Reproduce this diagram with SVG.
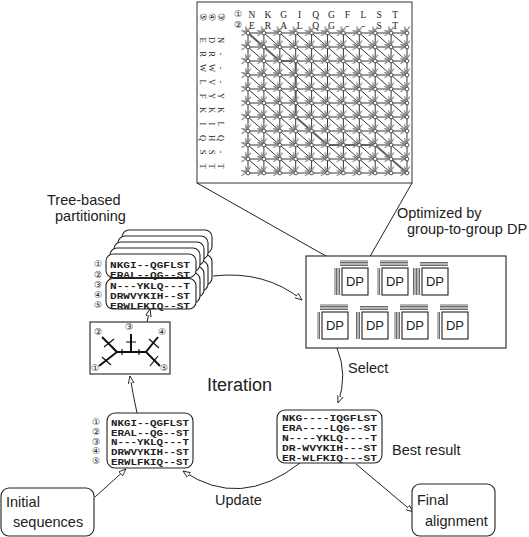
<svg xmlns="http://www.w3.org/2000/svg" width="529" height="537" viewBox="0 0 529 537">
<style>
.ln{stroke:#222;fill:none;stroke-width:1}
.bx{stroke:#222;fill:#fff;stroke-width:1.1}
.lbl{font-family:"Liberation Sans",Arial,sans-serif;font-size:14.5px;fill:#222}
.seq{font-family:"Liberation Mono","DejaVu Sans Mono",monospace;font-weight:bold;font-size:9.5px;fill:#222}
.seqs{font-family:"Liberation Mono","DejaVu Sans Mono",monospace;font-weight:bold;font-size:9px;fill:#222}
.cn{font-family:"DejaVu Sans","Noto Sans CJK JP",sans-serif;font-size:9px;fill:#222;text-anchor:middle;dominant-baseline:central}
.gl{font-family:"Liberation Serif",serif;font-size:9.5px;fill:#222;text-anchor:middle}
.gr{font-family:"Liberation Serif",serif;font-size:8.5px;fill:#222;text-anchor:middle}
.stk{stroke:#444;fill:none;stroke-width:0.8}
.dp{font-family:"Liberation Sans",Arial,sans-serif;font-size:13px;fill:#222;text-anchor:middle}
.gd{stroke:#222;fill:none;stroke-width:0.9}
.br{stroke:#111;fill:none;stroke-width:2}
.tk{stroke:#111;fill:none;stroke-width:1.2}
</style>
<defs>
<marker id="ah" viewBox="0 0 10 10" refX="9" refY="5" markerWidth="8" markerHeight="8" orient="auto" markerUnits="userSpaceOnUse">
<path d="M0,1.5 L9,5 L0,8.5 Z" fill="#fff" stroke="#222" stroke-width="1.1"/>
</marker>
<pattern id="nodes" patternUnits="userSpaceOnUse" x="240.05" y="26" width="15.9" height="14">
<g transform="translate(7.95,7)">
<path d="M-6.5,-2.8 L-2.3,0 L-6.5,2.8 M-2.8,-6.5 L0,-2.3 L2.8,-6.5 M-6.6,-2.4 L-1.7,-1.7 L-2.4,-6.6" stroke="#888" stroke-width="1.2" fill="none"/>
<circle r="1.9" fill="#fff" stroke="#222" stroke-width="0.8"/>
</g>
</pattern>
<g id="card">
<rect x="0" y="0" width="90" height="23.5" rx="7"/>
<rect x="0" y="24.5" width="90" height="30.5" rx="7"/>
</g>
</defs>
<rect width="529" height="537" fill="#fff"/>

<!-- DP grid detail -->
<g id="grid">
<rect x="197" y="2" width="215" height="181" fill="#fff" stroke="#333" stroke-width="1"/>
<text class="cn" x="238" y="14">①</text>
<text class="cn" x="238" y="25">②</text>
<text class="gl" x="252 267.9 283.8 299.7 315.6 331.5 347.4 363.3 379.2 395.1" y="17.5">NKGIQGFLST</text>
<text class="gl" x="252 267.9 283.8 299.7 315.6 331.5 347.4 363.3 379.2 395.1" y="28.5">ERALQG--ST</text>
<g transform="rotate(90)">
<text class="cn" x="17" y="-221">③</text>
<text class="cn" x="17" y="-212">④</text>
<text class="cn" x="17" y="-203">⑤</text>
<text class="gr" x="40 54 68 82 96 110 124 138 152 166" y="-218">N---YKLQ-T</text>
<text class="gr" x="40 54 68 82 96 110 124 138 152 166" y="-209">DRWVYKIHST</text>
<text class="gr" x="40 54 68 82 96 110 124 138 152 166" y="-200">ERWLFKIQST</text>
</g>
<path class="gd" d="M248,33H407M248,47H407M248,61H407M248,75H407M248,89H407M248,103H407M248,117H407M248,131H407M248,145H407M248,159H407M248,173H407
M248,33V173M263.9,33V173M279.8,33V173M295.7,33V173M311.6,33V173M327.5,33V173M343.4,33V173M359.3,33V173M375.2,33V173M391.1,33V173M407,33V173
M248,33L407,173M263.9,33L407,159M279.8,33L407,145M295.7,33L407,131M311.6,33L407,117M327.5,33L407,103M343.4,33L407,89M359.3,33L407,75M375.2,33L407,61M391.1,33L407,47
M248,47L391.1,173M248,61L375.2,173M248,75L359.3,173M248,89L343.4,173M248,103L327.5,173M248,117L311.6,173M248,131L295.7,173M248,145L279.8,173M248,159L263.9,173"/>
<path d="M248,33 L263.9,47 L279.8,61 L295.7,61 L295.7,117 L311.6,131 L327.5,145 L375.2,145 L391.1,159 L407,173" stroke="#555" stroke-width="2.2" fill="none" opacity="0.8"/>
<rect x="240.05" y="26" width="174.9" height="154" fill="url(#nodes)"/>
</g>

<!-- connectors -->
<g id="connectors">
<path class="ln" d="M197,183 L333,260"/>
<path class="ln" d="M412,183 L368,260"/>
<path class="ln" d="M213,276 Q265,270 302,300" marker-end="url(#ah)"/>
<path class="ln" d="M337,348 Q348,375 338,403" marker-end="url(#ah)"/>
<path class="ln" d="M356,464 L413,512" marker-end="url(#ah)"/>
<path class="ln" d="M300,463 Q240,510 183,471" marker-end="url(#ah)"/>
<path class="ln" d="M95,497 L126,469" marker-end="url(#ah)"/>
<path class="ln" d="M137,413 Q133,395 130,376" marker-end="url(#ah)"/>
<path class="ln" d="M147,322 L150,309" marker-end="url(#ah)"/>
</g>

<!-- partition stack -->
<g id="partition">
<g class="bx">
<use href="#card" x="122" y="230"/>
<use href="#card" x="118" y="236"/>
<use href="#card" x="114" y="242"/>
<use href="#card" x="110" y="248"/>
<use href="#card" x="106" y="254"/>
</g>
<text class="cn" x="98" y="264">①</text>
<text class="cn" x="98" y="274.5">②</text>
<text class="cn" x="98" y="285">③</text>
<text class="cn" x="98" y="295">④</text>
<text class="cn" x="98" y="305">⑤</text>
<text class="seq" x="110" y="267.5" textLength="80" lengthAdjust="spacingAndGlyphs">NKGI--QGFLST</text>
<text class="seq" x="110" y="278" textLength="80" lengthAdjust="spacingAndGlyphs">ERAL--QG--ST</text>
<text class="seq" x="110" y="288.5" textLength="80" lengthAdjust="spacingAndGlyphs">N---YKLQ---T</text>
<text class="seq" x="110" y="298.5" textLength="80" lengthAdjust="spacingAndGlyphs">DRWVYKIH--ST</text>
<text class="seq" x="110" y="308.5" textLength="80" lengthAdjust="spacingAndGlyphs">ERWLFKIQ--ST</text>
</g>
<text class="lbl" x="47" y="205">Tree-based</text>
<text class="lbl" x="55" y="221">partitioning</text>

<!-- tree -->
<g id="tree">
<rect class="bx" x="90" y="322" width="80" height="52"/>
<path class="br" d="M102,337 L117,352 L99,366 M117,352 H146 M158,337 L146,352 L160,366 M131,352 V334"/>
<path class="tk" d="M104,347 L114,339 M102,357 L111,365 M149,339 L159,348 M150,366 L158,356 M126,342 H136 M122,349 V355 M139,349 V355"/>
<text class="cn" x="98" y="332">②</text>
<text class="cn" x="129" y="327">③</text>
<text class="cn" x="162" y="332">④</text>
<text class="cn" x="95" y="368">①</text>
<text class="cn" x="164" y="368">⑤</text>
</g>

<!-- DP box -->
<g id="dpbox">
<rect class="bx" x="306" y="256" width="200" height="92"/>
<path class="stk" d="M340,265.5H368M340,264H368M340,262.5H368M340,261H368M339.5,268V295M338,268V295M336.5,268V295M335,268V295
M380,265.5H408M380,264H408M380,262.5H408M380,261H408M379.5,268V295M378,268V295
M420,265.5H448M420,264H448M420,262.5H448M419.5,268V295M418,268V295M416.5,268V295M415,268V295M413.5,268V295
M320,309.5H348M320,308H348M320,306.5H348M320,305H348M319.5,312V339M318,312V339
M360,309.5H388M360,308H388M360,306.5H388M359.5,312V339M358,312V339M356.5,312V339
M400,309.5H428M400,308H428M400,306.5H428M400,305H428M399.5,312V339M398,312V339M396.5,312V339M395,312V339
M440,309.5H468M440,308H468M440,306.5H468M440,305H468M439.5,312V339M438,312V339"/>
<g class="bx">
<rect x="342" y="268" width="26" height="27"/>
<rect x="382" y="268" width="26" height="27"/>
<rect x="422" y="268" width="26" height="27"/>
<rect x="322" y="312" width="26" height="27"/>
<rect x="362" y="312" width="26" height="27"/>
<rect x="402" y="312" width="26" height="27"/>
<rect x="442" y="312" width="26" height="27"/>
</g>
<text class="dp" x="355" y="286">DP</text>
<text class="dp" x="395" y="286">DP</text>
<text class="dp" x="435" y="286">DP</text>
<text class="dp" x="335" y="330">DP</text>
<text class="dp" x="375" y="330">DP</text>
<text class="dp" x="415" y="330">DP</text>
<text class="dp" x="455" y="330">DP</text>
</g>
<text class="lbl" x="397" y="218">Optimized  by</text>
<text class="lbl" x="407" y="234">group-to-group DP</text>
<text class="lbl" x="348" y="373">Select</text>
<text class="lbl" x="207" y="391" style="font-size:18px">Iteration</text>

<!-- best result -->
<g id="best">
<rect class="bx" x="277" y="410" width="105" height="53" rx="8"/>
<text class="seqs" x="282" y="420.5" textLength="95" lengthAdjust="spacingAndGlyphs">NKG----IQGFLST</text>
<text class="seqs" x="282" y="431" textLength="95" lengthAdjust="spacingAndGlyphs">ERA----LQG--ST</text>
<text class="seqs" x="282" y="441" textLength="95" lengthAdjust="spacingAndGlyphs">N----YKLQ----T</text>
<text class="seqs" x="282" y="451" textLength="95" lengthAdjust="spacingAndGlyphs">DR-WVYKIH---ST</text>
<text class="seqs" x="282" y="461" textLength="95" lengthAdjust="spacingAndGlyphs">ER-WLFKIQ---ST</text>
</g>
<text class="lbl" x="392" y="455">Best result</text>

<!-- initial alignment -->
<g id="seqbox">
<rect class="bx" x="107" y="413" width="86" height="55" rx="8"/>
<text class="cn" x="96" y="422">①</text>
<text class="cn" x="96" y="432">②</text>
<text class="cn" x="96" y="441.5">③</text>
<text class="cn" x="96" y="451">④</text>
<text class="cn" x="96" y="461">⑤</text>
<text class="seq" x="111" y="425.5" textLength="78" lengthAdjust="spacingAndGlyphs">NKGI--QGFLST</text>
<text class="seq" x="111" y="435.5" textLength="78" lengthAdjust="spacingAndGlyphs">ERAL--QG--ST</text>
<text class="seq" x="111" y="445" textLength="78" lengthAdjust="spacingAndGlyphs">N---YKLQ---T</text>
<text class="seq" x="111" y="454.5" textLength="78" lengthAdjust="spacingAndGlyphs">DRWVYKIH--ST</text>
<text class="seq" x="111" y="464.5" textLength="78" lengthAdjust="spacingAndGlyphs">ERWLFKIQ--ST</text>
</g>
<text class="lbl" x="215" y="505">Update</text>

<g id="initial">
<rect class="bx" x="1" y="488" width="93" height="48" rx="8"/>
<text class="lbl" x="6" y="507">Initial</text>
<text class="lbl" x="13" y="527">sequences</text>
</g>
<g id="final">
<rect class="bx" x="412" y="484" width="83" height="52" rx="8"/>
<text class="lbl" x="417" y="505">Final</text>
<text class="lbl" x="425" y="526">alignment</text>
</g>
</svg>
